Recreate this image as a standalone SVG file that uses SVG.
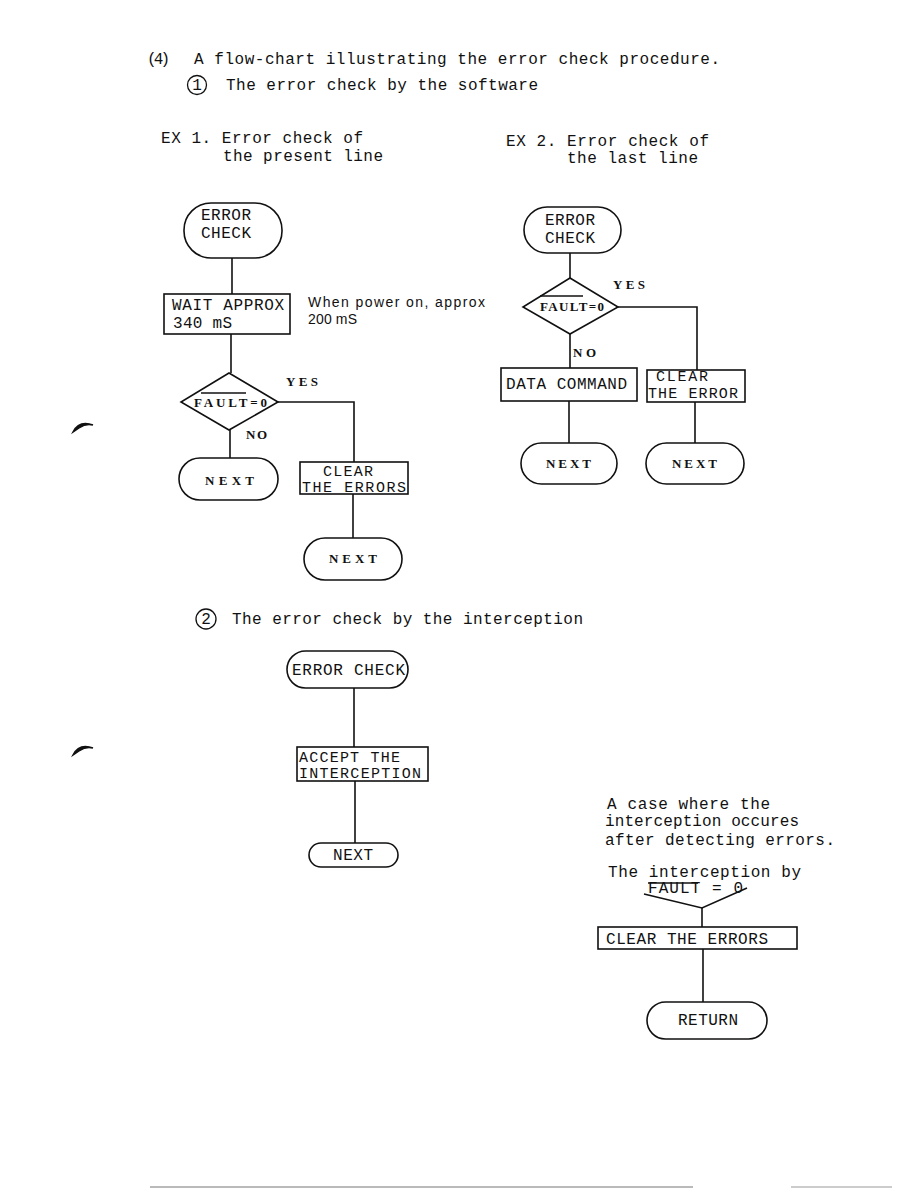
<svg xmlns="http://www.w3.org/2000/svg" width="918" height="1188" viewBox="0 0 918 1188">
<style>
.t{font-family:"Liberation Mono",monospace;font-size:16px;fill:#111}
.h{font-family:"Liberation Mono",monospace;font-size:16px;fill:#111}
.m{font-family:"Liberation Mono",monospace;font-size:15px;fill:#111}
.s{font-family:"Liberation Sans",sans-serif;font-size:14px;fill:#111}
.b{font-family:"Liberation Serif",serif;font-size:13px;font-weight:bold;fill:#111}
.n{fill:#fff;stroke:#111;stroke-width:1.6}
.c{fill:none;stroke:#111;stroke-width:1.6}
.o{stroke:#111;stroke-width:1.3}
</style>
<rect width="918" height="1188" fill="#fff"/>

<g id="header">
<text class="h" x="147" y="64" textLength="23" lengthAdjust="spacing">(4)</text>
<text class="h" x="194" y="64" textLength="526" lengthAdjust="spacing">A flow-chart illustrating the error check procedure.</text>
<circle cx="197" cy="85" r="9.5" fill="none" stroke="#111" stroke-width="1.3"/>
<text class="h" x="197" y="90" text-anchor="middle" font-size="13">1</text>
<text class="h" x="226" y="90" textLength="312" lengthAdjust="spacing">The error check by the software</text>
<text class="t" x="161" y="143" textLength="202" lengthAdjust="spacing">EX 1. Error check of</text>
<text class="t" x="223" y="161" textLength="160" lengthAdjust="spacing">the present line</text>
<text class="t" x="506" y="146" textLength="203" lengthAdjust="spacing">EX 2. Error check of</text>
<text class="t" x="567" y="163" textLength="131" lengthAdjust="spacing">the last line</text>
</g>

<g id="connectors">
<path class="c" d="M232 258V294"/>
<path class="c" d="M231 334V373"/>
<path class="c" d="M230 430V458"/>
<path class="c" d="M278 402H354V462"/>
<path class="c" d="M353 494V538"/>
<path class="c" d="M570 253V278"/>
<path class="c" d="M570 334V368"/>
<path class="c" d="M569 401V443"/>
<path class="c" d="M618 307H697V370"/>
<path class="c" d="M695 402V443"/>
<path class="c" d="M354 688V747"/>
<path class="c" d="M355 781V843"/>
<path class="c" d="M644 894L702 908L747 888"/>
<path class="c" d="M702 908V927"/>
<path class="c" d="M703 949V1002"/>
</g>

<g id="ex1-start">
<rect class="n" x="184" y="203" width="98" height="55" rx="27"/>
<text class="t" x="201" y="220" textLength="50" lengthAdjust="spacing">ERROR</text>
<text class="t" x="201" y="238" textLength="50" lengthAdjust="spacing">CHECK</text>
</g>
<g id="ex1-wait">
<rect class="n" x="164" y="294" width="126" height="40"/>
<text class="t" x="172" y="310" textLength="112" lengthAdjust="spacing">WAIT APPROX</text>
<text class="t" x="173" y="328" textLength="59" lengthAdjust="spacing">340  mS</text>
</g>
<g id="ex1-note">
<text class="s" x="308" y="307" textLength="177" lengthAdjust="spacing">When power on, approx</text>
<text class="s" x="308" y="324" textLength="49" lengthAdjust="spacing">200 mS</text>
</g>
<g id="ex1-decision">
<polygon class="n" points="229,373 278,402 229,430 181,402"/>
<text class="b" x="194" y="407" textLength="73" lengthAdjust="spacing" font-size="12">FAULT=0</text>
<line class="o" x1="201" y1="393" x2="246" y2="393"/>
<text class="b" x="286" y="386" textLength="32" lengthAdjust="spacing">YES</text>
<text class="b" x="246" y="439" textLength="21" lengthAdjust="spacing">NO</text>
</g>
<g id="ex1-next1">
<rect class="n" x="179" y="458" width="99" height="42" rx="21"/>
<text class="b" x="205" y="485" textLength="49" lengthAdjust="spacing">NEXT</text>
</g>
<g id="ex1-clear">
<rect class="n" x="300" y="462" width="108" height="32"/>
<text class="m" x="323" y="476" textLength="50" lengthAdjust="spacing">CLEAR</text>
<text class="m" x="302" y="492" textLength="104" lengthAdjust="spacing">THE ERRORS</text>
</g>
<g id="ex1-next2">
<rect class="n" x="304" y="538" width="98" height="42" rx="21"/>
<text class="b" x="329" y="563" textLength="48" lengthAdjust="spacing">NEXT</text>
</g>

<g id="ex2-start">
<rect class="n" x="524" y="207" width="97" height="46" rx="23"/>
<text class="t" x="545" y="225" textLength="50" lengthAdjust="spacing">ERROR</text>
<text class="t" x="545" y="243" textLength="50" lengthAdjust="spacing">CHECK</text>
</g>
<g id="ex2-decision">
<polygon class="n" points="570,278 618,307 570,334 523,307"/>
<text class="b" x="540" y="311" textLength="64" lengthAdjust="spacing">FAULT=0</text>
<line class="o" x1="540" y1="296" x2="583" y2="296"/>
<text class="b" x="613" y="289" textLength="32" lengthAdjust="spacing">YES</text>
<text class="b" x="573" y="357" textLength="23" lengthAdjust="spacing">NO</text>
</g>
<g id="ex2-data">
<rect class="n" x="501" y="368" width="136" height="33"/>
<text class="t" x="506" y="389" textLength="121" lengthAdjust="spacing">DATA COMMAND</text>
</g>
<g id="ex2-clear">
<rect class="n" x="647" y="370" width="98" height="32"/>
<text class="m" x="656" y="381" textLength="52" lengthAdjust="spacing">CLEAR</text>
<text class="m" x="648" y="398" textLength="90" lengthAdjust="spacing">THE ERROR</text>
</g>
<g id="ex2-next1">
<rect class="n" x="521" y="443" width="96" height="41" rx="20.5"/>
<text class="b" x="546" y="468" textLength="45" lengthAdjust="spacing">NEXT</text>
</g>
<g id="ex2-next2">
<rect class="n" x="646" y="443" width="98" height="41" rx="20.5"/>
<text class="b" x="672" y="468" textLength="45" lengthAdjust="spacing">NEXT</text>
</g>

<g id="section2-title">
<circle cx="206" cy="619" r="10" fill="none" stroke="#111" stroke-width="1.3"/>
<text class="h" x="206" y="624" text-anchor="middle" font-size="13">2</text>
<text class="h" x="232" y="624" textLength="351" lengthAdjust="spacing">The error check by the interception</text>
</g>
<g id="s2-start">
<rect class="n" x="287" y="651" width="121" height="37" rx="18.5"/>
<text class="t" x="292" y="675" textLength="113" lengthAdjust="spacing">ERROR CHECK</text>
</g>
<g id="s2-accept">
<rect class="n" x="297" y="747" width="131" height="34"/>
<text class="m" x="299" y="762" textLength="101" lengthAdjust="spacing">ACCEPT THE</text>
<text class="m" x="299" y="778" textLength="122" lengthAdjust="spacing">INTERCEPTION</text>
</g>
<g id="s2-next">
<rect class="n" x="309" y="843" width="89" height="24" rx="12"/>
<text class="t" x="333" y="860" textLength="40" lengthAdjust="spacing" font-size="14">NEXT</text>
</g>

<g id="s2-note">
<text class="h" x="607" y="809" textLength="163" lengthAdjust="spacing">A case where the</text>
<text class="h" x="605" y="826" textLength="194" lengthAdjust="spacing">interception occures</text>
<text class="h" x="605" y="845" textLength="230" lengthAdjust="spacing">after detecting errors.</text>
<text class="h" x="608" y="877" textLength="193" lengthAdjust="spacing">The interception by</text>
<text class="t" x="648" y="893" textLength="95" lengthAdjust="spacing" font-size="14">FAULT = 0</text>
<line class="o" x1="648" y1="883" x2="698" y2="883"/>
</g>
<g id="s2-clear">
<rect class="n" x="598" y="927" width="199" height="22"/>
<text class="t" x="606" y="944" textLength="162" lengthAdjust="spacing" font-size="14">CLEAR THE ERRORS</text>
</g>
<g id="s2-return">
<rect class="n" x="647" y="1002" width="120" height="37" rx="18.5"/>
<text class="t" x="678" y="1025" textLength="60" lengthAdjust="spacing" font-size="14">RETURN</text>
</g>

<g id="marks">
<path d="M73 432Q79 420 93 425Q86 423 79 428Q76 430 73 432Z" fill="#111" stroke="#111" stroke-width="1.5"/>
<path d="M73 755Q79 743 93 748Q86 746 79 751Q76 753 73 755Z" fill="#111" stroke="#111" stroke-width="1.5"/>
<line x1="150" y1="1187" x2="693" y2="1187" stroke="#777" stroke-width="1.2"/>
<line x1="791" y1="1187" x2="892" y2="1187" stroke="#999" stroke-width="1.2"/>
</g>
</svg>
